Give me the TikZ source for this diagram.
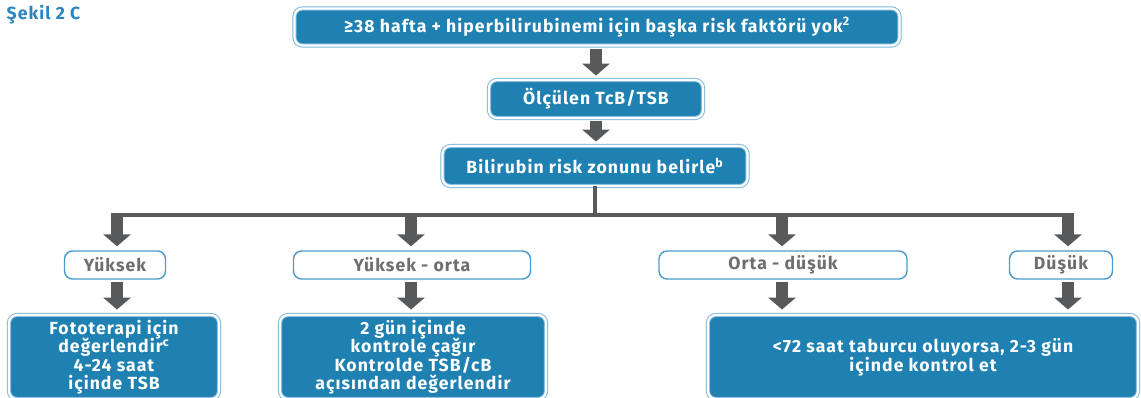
\documentclass[tikz,border=0pt]{standalone}
\usepackage{fontspec}
\setmainfont{Fira Sans}[LetterSpace=6]
\usetikzlibrary{arrows.meta,positioning,calc}

\definecolor{boxblue}{HTML}{1F80B2}
\definecolor{rimblue}{HTML}{7FB7DA}
\definecolor{arrowgray}{HTML}{58595B}
\definecolor{zoneblue}{HTML}{4B9BCD}
\definecolor{zonetext}{HTML}{6D6E71}
\definecolor{titleblue}{HTML}{2A85C0}
\newdimen\px \px=0.625pt
\newcommand{\boxfont}{\fontsize{11}{11.6}\selectfont\bfseries\lineskiplimit=-\maxdimen}

\begin{document}
\begin{tikzpicture}[x=\px, y=-\px,
    bluebox/.style={draw=rimblue, double=white, double distance=1.4pt, line width=0.6pt,
        fill=boxblue, rounded corners=5pt, text=white, font=\boxfont, align=center, inner sep=0pt},
    zonebox/.style={draw=zoneblue, line width=0.9pt, fill=white, rounded corners=5pt,
        text=zonetext, font=\boxfont, inner sep=0pt},
    bigarrow/.style={draw=arrowgray, line width=8pt, -{Triangle[width=17pt,length=7.5pt]}},
    busline/.style={draw=arrowgray, line width=2.8pt}]
    \useasboundingbox (0,0) rectangle (1141,397);

    % title
    \node[anchor=west, text=titleblue, font=\boxfont] (baslik) at (1,15) {Şekil 2 C};

    % top chain
    \node[bluebox, minimum width=605\px, minimum height=37\px] (risk) at (597,27)
        {≥38 hafta + hiperbilirubinemi için başka risk faktörü yok\textsuperscript{2}};
    \node[bluebox, minimum width=214\px, minimum height=38\px] (olcum) at (596,99) {Ölçülen TcB/TSB};
    \node[bluebox, minimum width=305\px, minimum height=40\px] (zon) at (595,166)
        {Bilirubin risk zonunu belirle\textsuperscript{b}};
    \draw[bigarrow] ($(olcum.north |- risk.south)+(0,3)$) -- ($(olcum.north)+(0,-4)$);
    \draw[bigarrow] ($(olcum.south)+(0,3)$) -- ($(olcum.north |- zon.north)+(0,-4)$);

    % bus
    \coordinate (bus) at (595,215);
    \coordinate (b1) at (117,215);
    \coordinate (b2) at (411,215);
    \coordinate (b3) at (782,215);
    \coordinate (b4) at (1068,215);
    \draw[busline] (zon.south) -- (bus);
    \draw[busline] (b1) -- (b4);

    % risk zones
    \node[zonebox, minimum width=101\px, minimum height=28\px] (yuksek) at (115,265) {Yüksek};
    \node[zonebox, minimum width=237\px, minimum height=28\px] (yorta) at (412,265) {Yüksek - orta};
    \node[zonebox, minimum width=248\px, minimum height=28\px] (odusuk) at (783,265) {Orta - düşük};
    \node[zonebox, minimum width=103\px, minimum height=28\px] (dusuk) at (1061,265) {Düşük};

    % actions
    \node[bluebox, minimum width=210\px, minimum height=84\px] (foto) at (114,357)
        {Fototerapi için\\değerlendir\textsuperscript{c}\\4-24 saat\\içinde TSB};
    \node[bluebox, minimum width=266\px, minimum height=84\px] (kontrol) at (413,357)
        {2 gün içinde\\kontrole çağır\\Kontrolde TSB/cB\\açısından değerlendir};
    \node[bluebox, minimum width=430\px, minimum height=84\px] (taburcu) at (923,357)
        {<72 saat taburcu oluyorsa, 2-3 gün\\içinde kontrol et};

    % arrows to zones and actions
    \draw[bigarrow] ($(b1)+(0,-2)$) -- ($(b1 |- yuksek.north)+(0,-4)$);
    \draw[bigarrow] ($(b2)+(0,-2)$) -- ($(b2 |- yorta.north)+(0,-4)$);
    \draw[bigarrow] ($(b3)+(0,-2)$) -- ($(b3 |- odusuk.north)+(0,-4)$);
    \draw[bigarrow] ($(b4)+(0,-2)$) -- ($(b4 |- dusuk.north)+(0,-4)$);
    \draw[bigarrow] ($(b1 |- yuksek.south)+(0,2)$) -- ($(b1 |- foto.north)+(0,-5)$);
    \draw[bigarrow] ($(b2 |- yorta.south)+(0,2)$) -- ($(b2 |- kontrol.north)+(0,-5)$);
    \draw[bigarrow] ($(b3 |- odusuk.south)+(0,2)$) -- ($(b3 |- taburcu.north)+(0,-5)$);
    \draw[bigarrow] ($(b4 |- dusuk.south)+(0,2)$) -- ($(b4 |- taburcu.north)+(0,-5)$);
\end{tikzpicture}
\end{document}
